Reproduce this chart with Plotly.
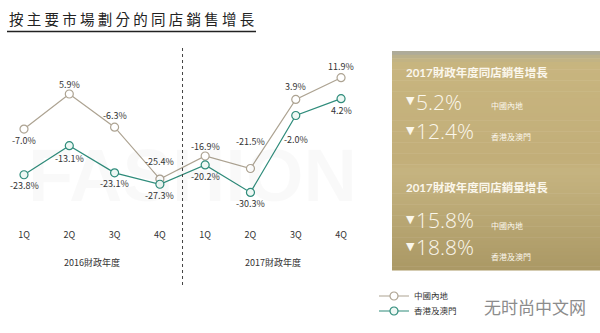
import plotly.graph_objects as go

# ---- data ----
quarters = ["1Q", "2Q", "3Q", "4Q", "1Q", "2Q", "3Q", "4Q"]
fiscal_years = ["2016財政年度", "2017財政年度"]
mainland = [-7.0, 5.9, -6.3, -25.4, -16.9, -21.5, 3.9, 11.9]
hk_macau = [-23.8, -13.1, -23.1, -27.3, -20.2, -30.3, -2.0, 4.2]
series_names = ["中國內地", "香港及澳門"]

sales_growth_title = "2017財政年度同店銷售增長"
sales_growth = [-5.2, -12.4]
volume_growth_title = "2017財政年度同店銷量增長"
volume_growth = [-15.8, -18.8]

title_text = "按主要市場劃分的同店銷售增長"

# ---- styling ----
W, H = 600, 333
C_MAIN = "#ada392"
C_HK = "#2f8c7b"
TXT = "#333333"
FONT = "Noto Sans CJK TC"
HEAD_FONT = "Lato, Noto Sans CJK TC, sans-serif"

# vertical offsets (px) of the value labels relative to each marker
main_shift = [-11, 10, 12, 18, 9, 27, 13, 11]
hk_shift = [-11, -13, -11, -11, -12, -11, -24, -12]

def px(x):
    return x / W

def py(y):
    return 1 - y / H

x_idx = list(range(len(quarters)))

fig = go.Figure()
fig.add_trace(go.Scatter(
    x=x_idx, y=mainland, name=series_names[0], mode="lines+markers",
    line=dict(color=C_MAIN, width=1.2),
    marker=dict(symbol="circle", size=8, color="white",
                line=dict(color=C_MAIN, width=1.2)),
    legend="legend", hoverinfo="skip",
))
fig.add_trace(go.Scatter(
    x=x_idx, y=hk_macau, name=series_names[1], mode="lines+markers",
    line=dict(color=C_HK, width=1.2),
    marker=dict(symbol="circle", size=8, color="#eef8f4",
                line=dict(color=C_HK, width=1.2)),
    legend="legend2", hoverinfo="skip",
))

annotations = []
shapes = []

def paper_text(x, y, text, size, color, xanchor="center", family=FONT, weight=None):
    f = dict(size=size, color=color, family=family)
    if weight is not None:
        f["weight"] = weight
    annotations.append(dict(x=px(x), y=py(y), xref="paper", yref="paper",
                            xanchor=xanchor, yanchor="middle", text=text,
                            showarrow=False, font=f))

# faint background lettering
paper_text(192, 175, "FASHION", 74, "rgba(0,0,0,0.025)", family="Liberation Sans", weight=700)

# value labels
for xi, v, s in zip(x_idx, mainland, main_shift):
    annotations.append(dict(x=xi, y=v, xref="x", yref="y", text=f"{v:.1f}%",
                            showarrow=False, yshift=s,
                            font=dict(size=9, color=TXT, family=FONT)))
for xi, v, s in zip(x_idx, hk_macau, hk_shift):
    annotations.append(dict(x=xi, y=v, xref="x", yref="y", text=f"{v:.1f}%",
                            showarrow=False, yshift=s,
                            font=dict(size=9, color=TXT, family=FONT)))

# fiscal-year group labels
for i, fy in enumerate(fiscal_years):
    annotations.append(dict(x=1.5 + 4 * i, y=py(262), xref="x", yref="paper",
                            yanchor="middle", text=fy, showarrow=False,
                            font=dict(size=9, color=TXT, family=FONT)))

# divider between fiscal years
shapes.append(dict(type="line", xref="x", yref="paper", x0=3.5, x1=3.5,
                   y0=py(48), y1=py(285),
                   line=dict(color="#444444", width=1, dash="dot")))

# title with underline
paper_text(7, 18, " ".join(title_text), 14.5, "#222222", xanchor="left")
shapes.append(dict(type="line", xref="paper", yref="paper",
                   x0=px(7), x1=px(256), y0=py(31.5), y1=py(31.5),
                   line=dict(color="#222222", width=1.5)))

# gold summary panel (vertical gradient built from thin strips)
box_l, box_r, box_t, box_b = 392, 600, 51, 270
stops = [(0.0, (168, 168, 160)), (0.03, (190, 178, 135)), (0.06, (200, 181, 127)),
         (0.5, (194, 174, 121)), (0.55, (198, 180, 128)), (1.0, (170, 152, 101))]

def grad(t):
    for (t0, c0), (t1, c1) in zip(stops[:-1], stops[1:]):
        if t0 <= t <= t1:
            f = (t - t0) / (t1 - t0) if t1 > t0 else 0
            return tuple(int(round(a + (b - a) * f)) for a, b in zip(c0, c1))
    return stops[-1][1]

n_strips = 60
hgt = (box_b - box_t) / n_strips
for k in range(n_strips):
    r, g, b = grad((k + 0.5) / n_strips)
    shapes.append(dict(type="rect", xref="paper", yref="paper", layer="below",
                       x0=px(box_l), x1=px(box_r),
                       y0=py(box_t + (k + 1) * hgt + 0.5), y1=py(box_t + k * hgt),
                       line=dict(width=0), fillcolor=f"rgb({r},{g},{b})"))

PANEL_TXT = "#fbf7ec"

def panel_block(head, values, y_head, y_vals, y_labels):
    paper_text(404, y_head, head, 11.5, PANEL_TXT, xanchor="left",
               family=HEAD_FONT, weight=700)
    for v, yv, yl, nm in zip(values, y_vals, y_labels, series_names):
        arrow = "▼" if v < 0 else "▲"
        paper_text(404, yv - 1, arrow, 11, PANEL_TXT, xanchor="left",
                   family="DejaVu Sans")
        paper_text(414, yv, f"{abs(v):.1f}%", 21, PANEL_TXT, xanchor="left",
                   family="Open Sans", weight=300)
        paper_text(489, yl, nm, 8, PANEL_TXT, xanchor="left")

panel_block(sales_growth_title, sales_growth, 72, [102, 131], [106, 137])
panel_block(volume_growth_title, volume_growth, 187, [220, 247], [225, 256])

# site mark
paper_text(535, 306, "无时尚中文网", 17, "#8c8c8c")

legend_style = dict(xanchor="left", yanchor="middle", bgcolor="rgba(0,0,0,0)",
                    itemwidth=30, tracegroupgap=0,
                    font=dict(size=8.5, color=TXT, family=FONT))

fig.update_layout(
    width=W, height=H,
    margin=dict(l=0, r=0, t=0, b=0),
    paper_bgcolor="white", plot_bgcolor="rgba(0,0,0,0)",
    font=dict(family=FONT, color=TXT),
    xaxis=dict(domain=[0, px(380)], range=[-0.53, 7.86],
               tickvals=x_idx, ticktext=quarters, ticks="",
               showgrid=False, zeroline=False, showline=False,
               tickfont=dict(size=9, color=TXT, family=FONT)),
    yaxis=dict(domain=[py(228), py(50)], range=[-43.4, 22.1],
               visible=False, showgrid=False, zeroline=False),
    showlegend=True,
    legend=dict(x=px(374), y=py(296), **legend_style),
    legend2=dict(x=px(374), y=py(311), **legend_style),
    annotations=annotations,
    shapes=shapes,
)

fig.write_html("out.html")
